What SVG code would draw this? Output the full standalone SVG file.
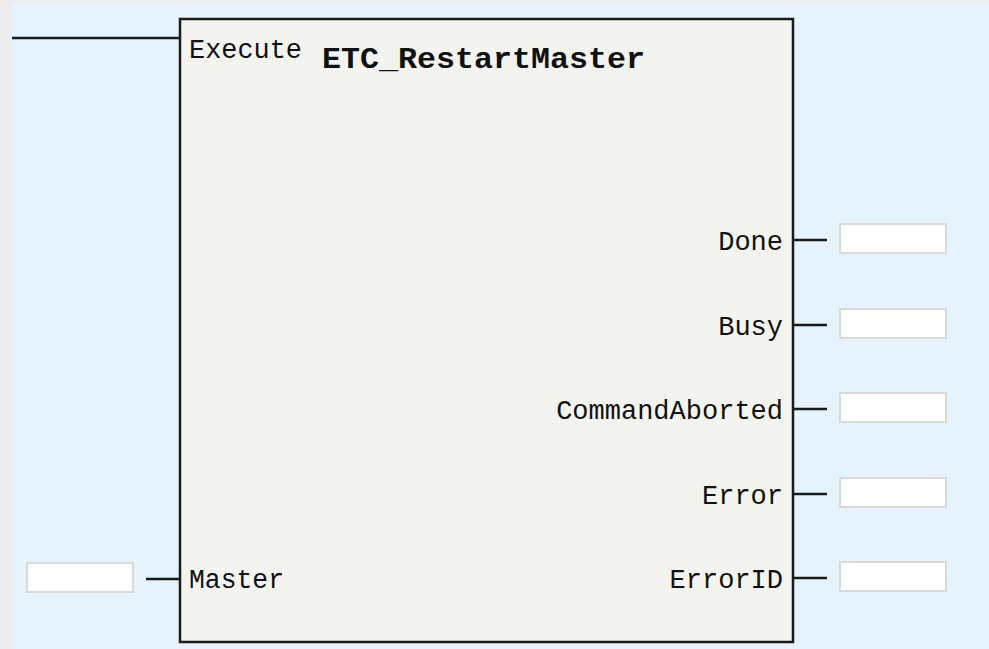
<svg xmlns="http://www.w3.org/2000/svg" width="989" height="649" viewBox="0 0 989 649">
<style>
.lbl{font-family:"Liberation Mono","DejaVu Sans Mono",monospace;font-size:27px;fill:#111}
.ttl{font-family:"Liberation Mono","DejaVu Sans Mono",monospace;font-size:30px;font-weight:bold;fill:#111}
.wire{stroke:#1a1a1a;stroke-width:2.5;fill:none}
.box{fill:#ffffff;stroke:#d9d9d5;stroke-width:2}
</style>
<rect x="0" y="0" width="989" height="649" fill="#ececec"/>
<rect x="12" y="4" width="977" height="645" fill="#e6f3fd"/>
<g id="block">
<rect x="180" y="19" width="613" height="623" fill="#f3f4ef" stroke="#1a1a1a" stroke-width="2.5"/>
<text class="ttl" x="322" y="68" textLength="323" lengthAdjust="spacingAndGlyphs">ETC_RestartMaster</text>
<text class="lbl" x="189" y="58" textLength="113" lengthAdjust="spacingAndGlyphs">Execute</text>
<text class="lbl" x="189" y="588" textLength="95" lengthAdjust="spacingAndGlyphs">Master</text>
<text class="lbl" x="783" y="250" text-anchor="end">Done</text>
<text class="lbl" x="783" y="335" text-anchor="end">Busy</text>
<text class="lbl" x="783" y="419" text-anchor="end">CommandAborted</text>
<text class="lbl" x="783" y="504" text-anchor="end">Error</text>
<text class="lbl" x="783" y="588" text-anchor="end">ErrorID</text>
</g>
<g id="connectors">
<line class="wire" x1="12" y1="38" x2="180" y2="38"/>
<line class="wire" x1="146" y1="579" x2="180" y2="579"/>
<line class="wire" x1="793" y1="240" x2="827" y2="240"/>
<line class="wire" x1="793" y1="325" x2="827" y2="325"/>
<line class="wire" x1="793" y1="409" x2="827" y2="409"/>
<line class="wire" x1="793" y1="494" x2="827" y2="494"/>
<line class="wire" x1="793" y1="578" x2="827" y2="578"/>
</g>
<g id="in-master"><rect class="box" x="27" y="563" width="106" height="29"/></g>
<g id="out-done"><rect class="box" x="840" y="224" width="106" height="29"/></g>
<g id="out-busy"><rect class="box" x="840" y="309" width="106" height="29"/></g>
<g id="out-commandaborted"><rect class="box" x="840" y="393" width="106" height="29"/></g>
<g id="out-error"><rect class="box" x="840" y="478" width="106" height="29"/></g>
<g id="out-errorid"><rect class="box" x="840" y="562" width="106" height="29"/></g>
</svg>
